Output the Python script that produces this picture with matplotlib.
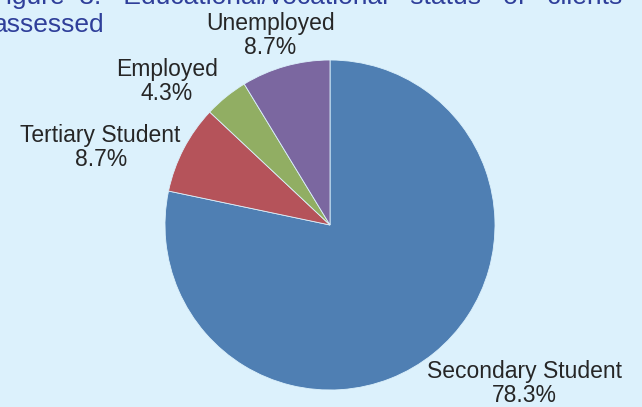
import matplotlib
matplotlib.use("Agg")
import matplotlib.pyplot as plt
from matplotlib import font_manager

# data
categories = ["Secondary Student", "Tertiary Student", "Employed", "Unemployed"]
shares = [78.3, 8.7, 4.3, 8.7]
colors = ["#4f7fb3", "#b5535a", "#91ae63", "#7b67a0"]

# label block centres (data units, pie radius = 1)
label_pos = [(1.18, -0.96), (-1.39, 0.47), (-0.99, 0.87), (-0.36, 1.15)]

# first line is justified in the original, hence the wider gaps
title_lines = ["Figure  3:   Educational/vocational   status   of   clients",
               "assessed"]

bg = "#dcf1fc"

# prefer a narrow sans like the original, fall back to the normal width
try:
    font_manager.findfont("Liberation Sans Narrow", fallback_to_default=False)
    fam, lab_size, tit_size = "Liberation Sans Narrow", 19.5, 23
except ValueError:
    fam, lab_size, tit_size = "Liberation Sans", 16.5, 19

fig = plt.figure(figsize=(6.42, 4.07), dpi=100, facecolor=bg)
ax = fig.add_axes([165 / 642, 17 / 407, 330 / 642, 330 / 407])
ax.set_facecolor(bg)

ax.pie(shares, colors=colors, startangle=90, counterclock=False,
       wedgeprops=dict(linewidth=0.6, edgecolor=bg), radius=1)
ax.set_xlim(-1, 1)
ax.set_ylim(-1, 1)
ax.set_aspect("equal")
ax.axis("off")

for name, val, (x, y) in zip(categories, shares, label_pos):
    ax.text(x, y, "{}\n{:.1f}%".format(name, val), ha="center", va="center",
            fontsize=lab_size, family=fam, color="#262626", linespacing=1.05,
            clip_on=False)

fig.text(-10 / 642, 1 - 4 / 407, title_lines[0], ha="left", va="baseline",
         fontsize=tit_size, family=fam, color="#2f3f9a")
fig.text(-7 / 642, 1 - 32 / 407, title_lines[1], ha="left", va="baseline",
         fontsize=tit_size, family=fam, color="#2f3f9a")

fig.savefig("out.png", dpi=100, facecolor=bg)
